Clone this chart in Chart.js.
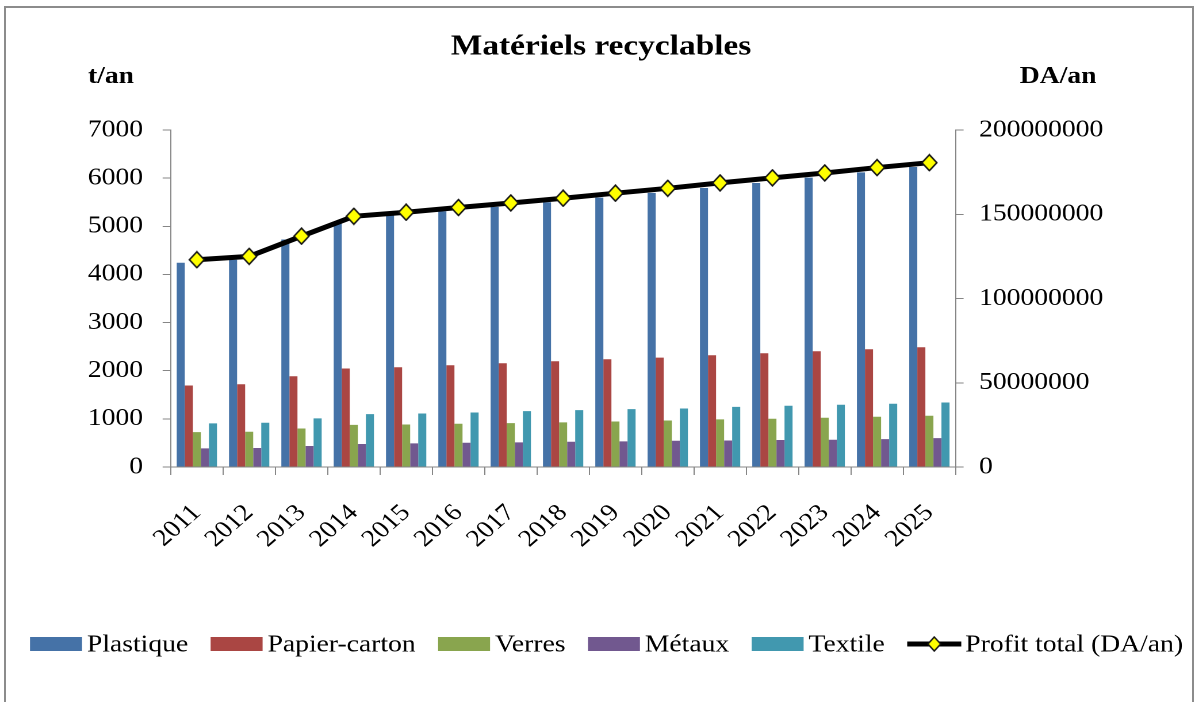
<!DOCTYPE html>
<html>
<head>
<meta charset="utf-8">
<script src="https://cdn.jsdelivr.net/npm/chart.js@4.4.1/dist/chart.umd.min.js"></script>
<style>
  html, body { margin: 0; padding: 0; background: #fff; overflow: hidden; }
  /* the drawing is laid out narrow and widened horizontally */
  #wrap { position: absolute; left: 0; top: 0; width: 1039px; height: 702px;
          transform: scaleX(1.15014); transform-origin: 0 0; }
  #frame { position: absolute; left: 4px; top: 6px; width: 1190px; height: 740px;
           border: 2px solid #8c8c8c; box-sizing: border-box; pointer-events: none; }
</style>
</head>
<body>
<div id="wrap"><canvas id="c" width="1039" height="702"></canvas></div>
<div id="frame"></div>
<script>
// Recyclable materials by year (t/an) and total profit (DA/an)
const years = ['2011','2012','2013','2014','2015','2016','2017','2018','2019','2020','2021','2022','2023','2024','2025'];
const plastique = [4242, 4304, 4725, 5098, 5223, 5312, 5402, 5499, 5596, 5693, 5796, 5900, 6010, 6121, 6231];
const papierCarton = [1693, 1720, 1886, 2045, 2073, 2114, 2155, 2197, 2238, 2273, 2321, 2363, 2404, 2446, 2487];
const verres = [725, 732, 801, 876, 884, 898, 912, 926, 946, 967, 988, 1002, 1023, 1043, 1064];
const metaux = [387, 394, 435, 477, 490, 504, 511, 525, 532, 546, 550, 560, 567, 580, 601];
const textile = [905, 918, 1009, 1098, 1112, 1133, 1161, 1181, 1202, 1216, 1250, 1271, 1292, 1313, 1340];
const profitTotal = [123000000, 125000000, 137000000, 148800000, 151200000, 154000000, 156700000,
                     159500000, 162500000, 165400000, 168600000, 171600000, 174500000, 177700000, 180600000];

const leftTicks = [0, 1000, 2000, 3000, 4000, 5000, 6000, 7000];
const rightTicks = [0, 50000000, 100000000, 150000000, 200000000];

const titleText = 'Matériels recyclables';
const leftAxisTitle = 't/an';
const rightAxisTitle = 'DA/an';

const SERIF = '"Liberation Serif", "Times New Roman", serif';
Chart.defaults.font.family = SERIF;
Chart.defaults.color = '#000';

// yellow diamond marker, drawn at double resolution
function makeDiamond(w, h) {
  const k = 2;
  const cv = document.createElement('canvas');
  cv.width = w * k; cv.height = h * k;
  const g = cv.getContext('2d');
  g.scale(k, k);
  g.beginPath();
  g.moveTo(w / 2, 1); g.lineTo(w - 1, h / 2); g.lineTo(w / 2, h - 1); g.lineTo(1, h / 2);
  g.closePath();
  g.fillStyle = '#FFFF00'; g.fill();
  g.lineWidth = 1.4; g.strokeStyle = '#111'; g.lineJoin = 'miter'; g.stroke();
  const img = new Image();
  img.width = w; img.height = h;
  img.src = cv.toDataURL();
  return img;
}

const diamond = makeDiamond(15, 18);
const legendDiamond = makeDiamond(13, 16);

const axisGrey = '#868686';

const decorPlugin = {
  id: 'decor',
  afterDraw(chart) {
    const ctx = chart.ctx;
    ctx.save();
    ctx.fillStyle = '#000';
    ctx.textBaseline = 'middle';
    ctx.textAlign = 'center';
    ctx.font = 'bold 29px ' + SERIF;
    ctx.fillText(titleText, 522.6, 47);
    ctx.font = 'bold 24px ' + SERIF;
    ctx.fillText(leftAxisTitle, 96.5, 77);
    ctx.fillText(rightAxisTitle, 920, 77);

    // legend row
    ctx.font = '24px ' + SERIF;
    ctx.textAlign = 'left';
    const yc = 644;
    let x = 26.1;
    chart.data.datasets.forEach(ds => {
      if (ds.type === 'line') {
        ctx.strokeStyle = '#000';
        ctx.lineWidth = 5;
        ctx.beginPath();
        ctx.moveTo(x, yc); ctx.lineTo(x + 47, yc);
        ctx.stroke();
        ctx.drawImage(legendDiamond, x + 23.5 - legendDiamond.width / 2, yc - legendDiamond.height / 2,
                      legendDiamond.width, legendDiamond.height);
        x += 47 + 3.5;
      } else {
        ctx.fillStyle = ds.backgroundColor;
        ctx.fillRect(x, yc - 7, 45.2, 14);
        x += 45.2 + 4.3;
      }
      ctx.fillStyle = '#000';
      ctx.fillText(ds.label, x, yc + 1);
      x += ctx.measureText(ds.label).width + 19.5;
    });
    ctx.restore();
  }
};

function barSet(label, data, color) {
  return { type: 'bar', label, data, backgroundColor: color, borderWidth: 0,
           yAxisID: 'y', order: 1, categoryPercentage: 0.77, barPercentage: 1.0 };
}

function build() {
  new Chart(document.getElementById('c'), {
    type: 'bar',
    data: {
      labels: years,
      datasets: [
        barSet('Plastique', plastique, '#4572A7'),
        barSet('Papier-carton', papierCarton, '#AA4643'),
        barSet('Verres', verres, '#89A54E'),
        barSet('Métaux', metaux, '#71588F'),
        barSet('Textile', textile, '#4198AF'),
        {
          type: 'line', label: 'Profit total (DA/an)', data: profitTotal, yAxisID: 'y1', order: 0,
          borderColor: '#000', borderWidth: 5, tension: 0, fill: false,
          pointStyle: diamond, pointRadius: 9, pointHoverRadius: 9
        }
      ]
    },
    options: {
      responsive: false,
      devicePixelRatio: 2,
      animation: false,
      events: [],
      layout: { padding: { top: 130, left: 0, right: 0, bottom: 0 } },
      plugins: { legend: { display: false }, title: { display: false }, tooltip: { enabled: false } },
      scales: {
        x: {
          offset: true,
          grid: { drawOnChartArea: false, drawTicks: true, tickLength: 8, color: axisGrey, offset: true },
          border: { color: axisGrey, width: 1 },
          ticks: { autoSkip: false, minRotation: 45, maxRotation: 45, padding: 24,
                   font: { size: 24, family: SERIF }, color: '#000' },
          afterFit: s => { s.height = 235; }
        },
        y: {
          position: 'left', min: 0, max: 7000,
          afterBuildTicks: s => { s.ticks = leftTicks.map(v => ({ value: v })); },
          grid: { drawOnChartArea: false, drawTicks: true, tickLength: 7, color: axisGrey },
          border: { color: axisGrey, width: 1 },
          ticks: { padding: 17, font: { size: 24, family: SERIF }, color: '#000', callback: v => String(v) },
          afterFit: s => { s.width = 148.4; }
        },
        y1: {
          position: 'right', min: 0, max: 200000000,
          afterBuildTicks: s => { s.ticks = rightTicks.map(v => ({ value: v })); },
          grid: { drawOnChartArea: false, drawTicks: true, tickLength: 7, color: axisGrey },
          border: { color: axisGrey, width: 1 },
          ticks: { padding: 13.4, font: { size: 24, family: SERIF }, color: '#000', callback: v => String(v) },
          afterFit: s => { s.width = 208.2; }
        }
      }
    },
    plugins: [decorPlugin]
  });
}

let pending = 2;
[diamond, legendDiamond].forEach(img => {
  if (img.complete) { if (--pending === 0) build(); }
  else img.onload = () => { if (--pending === 0) build(); };
});
</script>
</body>
</html>
